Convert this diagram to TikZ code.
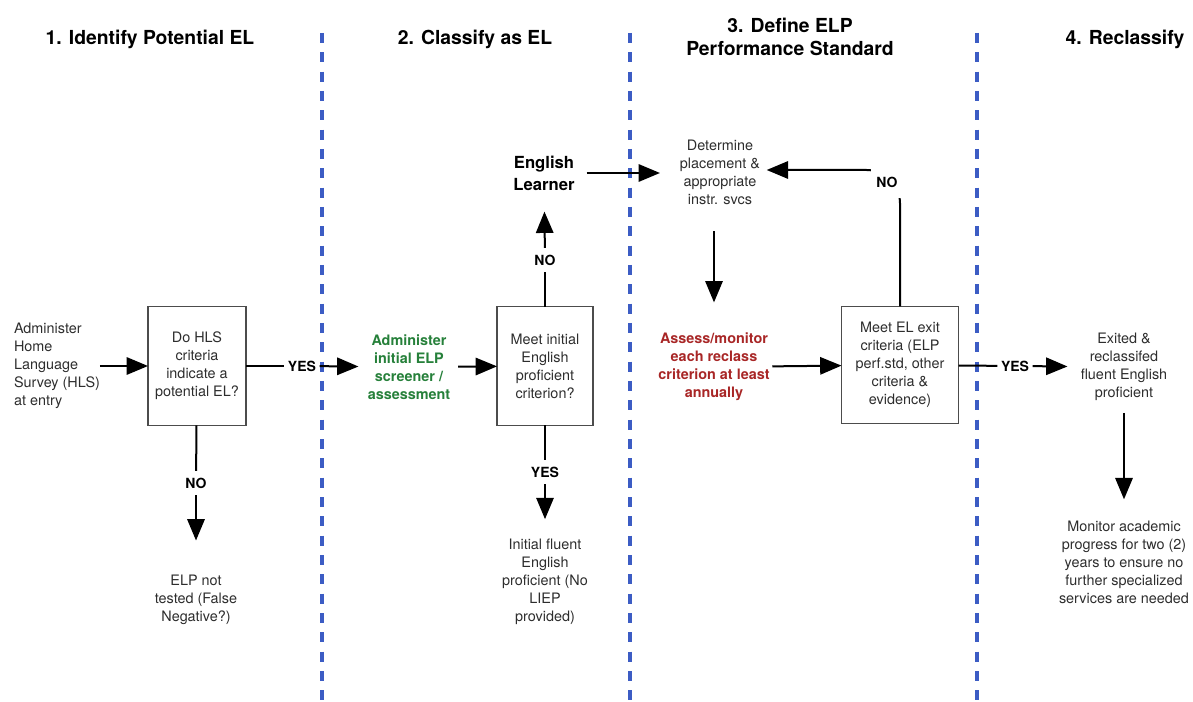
\documentclass[tikz,border=0pt]{standalone}
\usepackage{fontspec}
\setmainfont{TeX Gyre Heros}
\usetikzlibrary{arrows.meta,positioning}
\definecolor{divblue}{RGB}{60,92,196}
\definecolor{elgreen}{RGB}{38,128,58}
\definecolor{elred}{RGB}{168,38,38}
\definecolor{bodygray}{RGB}{45,45,45}

\begin{document}
\begin{tikzpicture}[x=0.75pt,y=-0.75pt,
    txt/.style={inner sep=0pt, outer sep=0pt, align=center, text=bodygray,
        font=\fontsize{10.8}{13.5}\selectfont},
    boldtxt/.style={txt, font=\fontsize{10.8}{13.5}\selectfont\bfseries},
    head/.style={inner sep=0pt, align=center, font=\fontsize{14.5}{17.25}\selectfont\bfseries},
    lbl/.style={inner xsep=2.5pt, inner ysep=5pt, font=\fontsize{10.5}{12}\selectfont\bfseries},
    box/.style={txt, draw=gray!60!black, line width=1.1pt, minimum width=73.5pt, minimum height=89pt},
    line/.style={line width=1.5pt},
    arr/.style={line, -{Triangle[length=16pt,width=13pt]}},
    divider/.style={divblue, line width=2.7pt, dash pattern=on 7.5pt off 7pt}]
    \useasboundingbox (0,0) rectangle (1193,702);

    % phase dividers
    \draw[divider] (322,33) -- (322,702);
    \draw[divider] (630,33) -- (630,702);
    \draw[divider] (977,33) -- (977,702);

    % phase headings
    \node[head] (h1) at (150,39) {1. Identify Potential EL};
    \node[head] (h2) at (475,39) {2. Classify as EL};
    \node[head] (h3) at (790,37) {3. Define ELP\\Performance Standard};
    \node[head] (h4) at (1125,39) {4. Reclassify};

    % 1. identify
    \node[txt, align=left, anchor=west] (hls) at (14,366) {Administer\\Home\\Language\\Survey (HLS)\\at entry};
    \node[box] (hlsq) at (197,366) {Do HLS\\criteria\\indicate a\\potential EL?};
    \node[lbl] (no1) at (196,483) {NO};
    \node[txt] (nottested) at (196,600) {ELP not\\tested (False\\Negative?)};
    \node[lbl] (yes1) at (302,366) {YES};

    % 2. classify
    \node[boldtxt, text=elgreen] (screen) at (409,367) {Administer\\initial ELP\\screener /\\assessment};
    \node[box, minimum width=72pt] (initq) at (545,366) {Meet initial\\English\\proficient\\criterion?};
    \node[lbl] (no2) at (545,260) {NO};
    \node[txt, text=black, font=\fontsize{12.5}{16.5}\selectfont\bfseries] (el) at (544,173) {English\\Learner};
    \node[lbl] (yes2) at (545,472) {YES};
    \node[txt] (ifep) at (545,582) {Initial fluent\\English\\proficient (No\\LIEP\\provided)};

    % 3. define standard
    \node[txt] (place) at (720,172) {Determine\\placement \&\\appropriate\\instr. svcs};
    \node[boldtxt, text=elred] (assess) at (714,367) {Assess/monitor\\each reclass\\criterion at least\\annually};
    \node[box, minimum width=87.75pt, minimum height=88pt] (exitq) at (900,365) {Meet EL exit\\criteria (ELP\\perf.std, other\\criteria \&\\evidence)};

    % 4. reclassify
    \node[lbl] (yes3) at (1015,366) {YES};
    \node[txt] (exited) at (1124,367) {Exited \&\\reclassifed\\fluent English\\proficient};
    \node[txt] (monitor) at (1124,562) {Monitor academic\\progress for two (2)\\years to ensure no\\further specialized\\services are needed};

    % connectors
    \draw[arr] (hls) -- (hlsq);
    \draw[line] (hlsq) -- (yes1);
    \draw[arr, shorten >=7pt] (yes1) -- (screen);
    \draw[line] (hlsq) -- (no1);
    \draw[arr, shorten >=26pt] (no1) -- (nottested);
    \draw[arr, shorten <=6pt] (screen) -- (initq);
    \draw[line] (initq) -- (no2);
    \draw[arr, shorten >=16pt] (no2) -- (el);
    \draw[line] (initq) -- (yes2);
    \draw[arr, shorten >=15pt] (yes2) -- (ifep);
    \draw[arr, shorten <=9pt, shorten >=15pt] (el.east) -- (place.west |- el.east);
    \draw[arr, shorten <=20pt, shorten >=23pt] (place.south -| assess) -- (assess.north);
    \draw[arr, shorten <=2pt] (assess) -- (exitq);
    \draw[arr, rounded corners=25pt, shorten >=5pt] (exitq.north) |- ([yshift=1.5pt]place.east);
    \node[lbl, fill=white, inner xsep=4pt, inner ysep=8pt] (no3) at (887,182) {NO};
    \draw[line] (exitq) -- (yes3);
    \draw[arr, shorten >=10pt] (yes3) -- (exited);
    \draw[arr, shorten <=9pt, shorten >=16pt] (exited) -- (monitor);
\end{tikzpicture}
\end{document}
